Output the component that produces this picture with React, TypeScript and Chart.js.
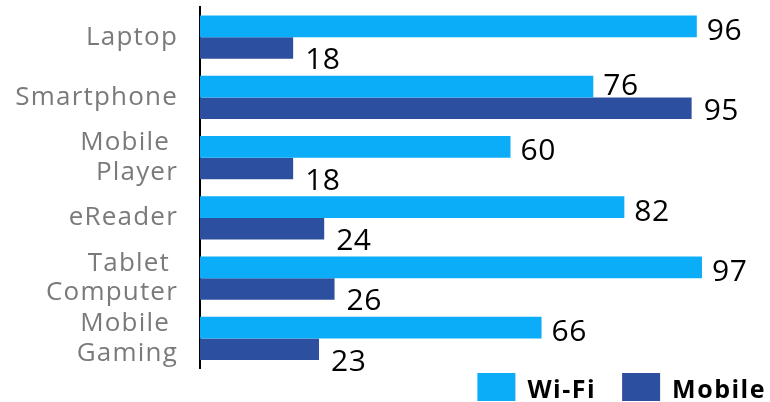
import { useEffect, useRef } from "react";
import { Chart, registerables } from "chart.js";

Chart.register(...registerables);

const categories: (string | string[])[] = [
  "Laptop",
  "Smartphone",
  ["Mobile ", "Player"],
  "eReader",
  ["Tablet ", "Computer"],
  ["Mobile ", "Gaming"],
];
const wifiValues = [96, 76, 60, 82, 97, 66];
const mobileValues = [18, 95, 18, 24, 26, 23];
const seriesNames = ["Wi-Fi", "Mobile"];
const seriesColors = ["#0BADF8", "#2D4F9F"];
const xMin = 0;
const xMax = 100;

const FONT = "'Open Sans', sans-serif";

const spacing = {
  id: "spacing",
  beforeDraw(chart: any) {
    chart.ctx.letterSpacing = "1.2px";
  },
  afterDatasetsDraw(chart: any) {
    chart.ctx.letterSpacing = "0px";
  },
};

const valueLabels = {
  id: "valueLabels",
  afterDatasetsDraw(chart: any) {
    const ctx = chart.ctx;
    ctx.save();
    ctx.letterSpacing = "0.5px";
    ctx.font = `500 30px ${FONT}`;
    ctx.fillStyle = "#000";
    ctx.textAlign = "left";
    ctx.textBaseline = "alphabetic";
    chart.data.datasets.forEach((ds: any, di: number) => {
      const meta = chart.getDatasetMeta(di);
      meta.data.forEach((bar: any, i: number) => {
        const mobileLonger = mobileValues[i] > wifiValues[i];
        let dy: number;
        if (di === 0) dy = mobileLonger ? 8 : 13.5;
        else dy = mobileLonger ? 12 : 21.5;
        const dx = di === 0 ? 10 : 12;
        ctx.fillText(String(ds.data[i]), bar.x + dx, bar.y + dy);
      });
    });
    ctx.restore();
  },
};

const customLegend = {
  id: "customLegend",
  afterDraw(chart: any) {
    const ctx = chart.ctx;
    ctx.save();
    ctx.letterSpacing = "1.5px";
    ctx.font = `700 25px ${FONT}`;
    ctx.textBaseline = "alphabetic";
    ctx.textAlign = "left";
    const boxW = 38;
    const boxH = 28;
    const gapText = 12;
    const gapItem = 26;
    const top = chart.chartArea.bottom + 4.5;
    let right = chart.width - 4;
    const ds = chart.data.datasets;
    for (let i = ds.length - 1; i >= 0; i--) {
      const text = ds[i].label;
      const w = ctx.measureText(text).width;
      const tx = right - w;
      const bx = tx - gapText - boxW;
      ctx.fillStyle = ds[i].backgroundColor;
      ctx.fillRect(bx, top, boxW, boxH);
      ctx.fillStyle = "#000";
      ctx.fillText(text, tx, top + 25);
      right = bx - gapItem;
    }
    ctx.restore();
  },
};

export default function App() {
  const ref = useRef<HTMLCanvasElement>(null);
  useEffect(() => {
    const chart = new Chart(ref.current as HTMLCanvasElement, {
      type: "bar",
      data: {
        labels: categories,
        datasets: [
          { label: seriesNames[0], data: wifiValues, backgroundColor: seriesColors[0] },
          { label: seriesNames[1], data: mobileValues, backgroundColor: seriesColors[1] },
        ],
      },
      options: {
        indexAxis: "y",
        responsive: false,
        animation: false,
        layout: { padding: { left: 0, top: 7, right: 52.5, bottom: 33.5 } },
        datasets: { bar: { categoryPercentage: 0.72, barPercentage: 1 } },
        plugins: { legend: { display: false }, tooltip: { enabled: false } },
        scales: {
          x: { display: false, min: xMin, max: xMax },
          y: {
            grid: { display: false, drawTicks: false },
            border: { display: true, color: "#000", width: 2 },
            ticks: {
              color: "#7a7a7a",
              font: { family: FONT, size: 26, weight: 500, lineHeight: 1.15 },
              padding: 22,
              autoSkip: false,
            },
            afterFit: (s: any) => {
              s.width = 200;
              s.paddingTop = 0;
              s.paddingBottom = 0;
            },
          },
        },
      } as any,
      plugins: [spacing, valueLabels, customLegend],
    });
    return () => chart.destroy();
  }, []);
  return (
    <div style={{ position: "fixed", left: 0, top: 0, width: 770, height: 402 }}>
      <canvas ref={ref} width={770} height={402} style={{ display: "block" }} />
    </div>
  );
}
